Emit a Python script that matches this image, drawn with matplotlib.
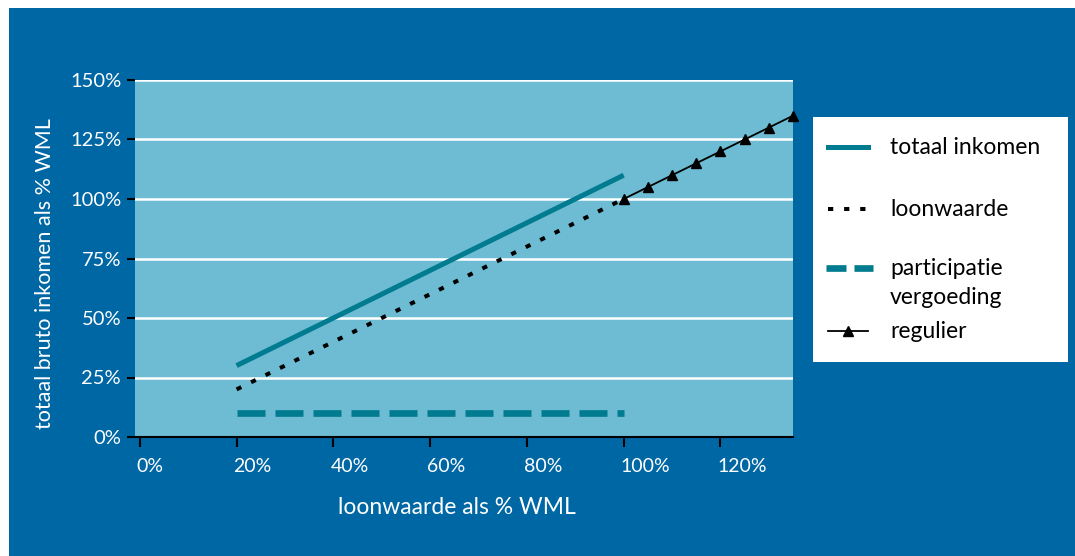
import matplotlib
matplotlib.use("Agg")
import matplotlib.pyplot as plt
from matplotlib.patches import Rectangle
from matplotlib.lines import Line2D
import matplotlib.transforms as mtransforms

plt.rcParams['font.family'] = ['Lato', 'DejaVu Sans']

# ---- data ----
x_totaal = [20, 25, 30, 35, 40, 45, 50, 55, 60, 65, 70, 75, 80, 85, 90, 95, 100]
y_totaal = [30, 35, 40, 45, 50, 55, 60, 65, 70, 75, 80, 85, 90, 95, 100, 105, 110]
x_loon = [20, 25, 30, 35, 40, 45, 50, 55, 60, 65, 70, 75, 80, 85, 90, 95, 100]
y_loon = [20, 25, 30, 35, 40, 45, 50, 55, 60, 65, 70, 75, 80, 85, 90, 95, 100]
x_part = [20, 100]
y_part = [10, 10]
x_regulier = [100, 105, 110, 115, 120, 125, 130, 135]
y_regulier = [100, 105, 110, 115, 120, 125, 130, 135]
x_ticks = [0, 20, 40, 60, 80, 100, 120]
x_ticklabels = ["0%", "20%", "40%", "60%", "80%", "100%", "120%"]
y_ticks = [0, 25, 50, 75, 100, 125, 150]
y_ticklabels = ["0%", "25%", "50%", "75%", "100%", "125%", "150%"]
legend_labels = ["totaal inkomen", "loonwaarde", "participatie\nvergoeding", "regulier"]

OUTER = "#0067a5"
PLOTBG = "#6dbcd3"
TEAL = "#007b8f"

W, H = 1075, 556
fig = plt.figure(figsize=(W / 100, H / 100), dpi=100, facecolor="white")
fig.patches.append(Rectangle((9 / W, 0), 1 - 9 / W, 1 - 8 / H, transform=fig.transFigure,
                             facecolor=OUTER, edgecolor="none", zorder=-10))

ax = fig.add_axes([135 / W, 1 - 437 / H, (793 - 135) / W, (437 - 80) / H])
ax.set_facecolor(PLOTBG)
ax.set_xlim(-1, 135)
ax.set_ylim(0, 150)

for yv in y_ticks[1:]:
    ax.axhline(yv, color="white", lw=1.8, zorder=1)

ax.plot(x_totaal, y_totaal, color=TEAL, lw=3.6, solid_capstyle="butt", zorder=3)
ax.plot(x_loon, y_loon, color="black", lw=2.9, linestyle=(0, (1.3, 2.7)), zorder=3)
ax.plot(x_part, y_part, color=TEAL, lw=4.8, linestyle=(0, (4.2, 1.5)), zorder=3)
ax.plot(x_regulier, y_regulier, color="black", lw=1.3, marker="^", markersize=7.5, zorder=4,
        clip_on=False)

for s in ["top", "right", "left"]:
    ax.spines[s].set_visible(False)
ax.spines["bottom"].set_color("black")
ax.spines["bottom"].set_linewidth(1.5)

ax.set_xticks(x_ticks)
ax.set_xticklabels(x_ticklabels)
ax.set_yticks(y_ticks)
ax.set_yticklabels(y_ticklabels)
ax.tick_params(axis="x", colors="black", labelcolor="white", labelsize=14, length=7, width=1.5, pad=8)
ax.tick_params(axis="y", colors="black", labelcolor="white", labelsize=14.5, length=6, width=1.5, pad=4)
shift = mtransforms.ScaledTranslation(-3 / 100, 0, fig.dpi_scale_trans)
for lab in ax.get_xticklabels():
    lab.set_horizontalalignment("left")
    lab.set_transform(lab.get_transform() + shift)

fig.text(457 / W, 1 - 508 / H, "loonwaarde als % WML", color="white", fontsize=16.5,
         ha="center", va="center")
fig.text(45 / W, 1 - 274 / H, "totaal bruto inkomen als % WML", color="white", fontsize=15.5,
         ha="center", va="center", rotation=90)

# ---- legend box ----
lax = fig.add_axes([813 / W, 1 - 362 / H, (1068 - 813) / W, (362 - 117) / H])
lax.set_xlim(813, 1068)
lax.set_ylim(362, 117)
lax.set_facecolor("white")
for s in lax.spines.values():
    s.set_visible(False)
lax.set_xticks([])
lax.set_yticks([])

hx = [828, 868]
lax.add_line(Line2D(hx, [147, 147], color=TEAL, lw=3.6))
lax.add_line(Line2D(hx, [209, 209], color="black", lw=2.9, linestyle=(0, (1.3, 2.7))))
lax.add_line(Line2D([826, 873], [268, 268], color=TEAL, lw=4.8, linestyle=(0, (3.0, 1.2))))
lax.add_line(Line2D([828, 848, 868], [331, 331, 331], color="black", lw=1.3, marker="^",
                    markersize=7.5, markevery=[1]))
ty = [147, 209, 283, 331]
for lbl, yy in zip(legend_labels, ty):
    lax.text(890, yy, lbl, color="black", fontsize=16.5, ha="left", va="center", linespacing=1.45)

fig.savefig("out.png", dpi=100, facecolor=fig.get_facecolor())
